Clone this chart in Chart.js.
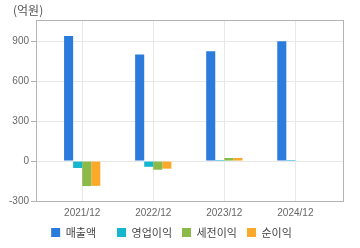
<!DOCTYPE html>
<html>
<head>
<meta charset="utf-8">
<script src="https://cdn.jsdelivr.net/npm/chart.js@4"></script>
<style>
  html, body { margin: 0; padding: 0; background: #fff; }
  #wrap { width: 360px; height: 248px; }
</style>
</head>
<body>
<div id="wrap"><canvas id="finChart"></canvas></div>
<script>
// ===== Data =====
const periods = ['2021/12', '2022/12', '2023/12', '2024/12'];
const seriesNames = ['매출액', '영업이익', '세전이익', '순이익'];
const sales = [940, 800, 825, 900];
const opProfit = [-52, -43, 8, 8];
const pretaxProfit = [-188, -65, 23, null];
const netProfit = [-186, -57, 23, null];
const yTicks = [-300, 0, 300, 600, 900];
const unitLabel = '(억원)';

const colors = ['#2b7bdc', '#16b6cf', '#8cba48', '#fba92a'];
const tickFont = { family: "'Liberation Sans', sans-serif", size: 10 };

function toPoints(arr) {
    return arr.map((v, i) => ({ x: i, y: v }));
}

// ===== Plugins =====
const frame = {
    id: 'frame',
    afterDraw(chart) {
        const a = chart.chartArea;
        const ctx = chart.ctx;
        ctx.save();
        ctx.strokeStyle = '#b4b4b4';
        ctx.lineWidth = 1;
        ctx.strokeRect(Math.round(a.left) + 0.5, Math.round(a.top) + 0.5,
            Math.round(a.right - a.left), Math.round(a.bottom - a.top));
        ctx.fillStyle = '#555';
        ctx.font = "12px 'Noto Sans CJK KR'";
        ctx.textBaseline = 'middle';
        ctx.fillText(unitLabel, 13, 10);
        ctx.restore();
    }
};

// ===== Chart =====
const data = [sales, opProfit, pretaxProfit, netProfit];
new Chart(document.getElementById('finChart'), {
    type: 'bar',
    data: {
        datasets: seriesNames.map((name, i) => ({
            label: name,
            data: toPoints(data[i]),
            backgroundColor: colors[i],
            borderWidth: 0,
            categoryPercentage: 0.51,
            barPercentage: 1
        }))
    },
    options: {
        responsive: true,
        maintainAspectRatio: false,
        animation: false,
        layout: { padding: { top: 20, right: 17, left: 0, bottom: 0 } },
        plugins: {
            legend: {
                position: 'bottom',
                labels: {
                    boxWidth: 9,
                    boxHeight: 9,
                    padding: 10,
                    color: '#444',
                    font: { family: "'Noto Sans CJK KR'", size: 11 },
                    generateLabels(chart) {
                        const items = Chart.defaults.plugins.legend.labels.generateLabels(chart);
                        // keep legend items evenly spaced like the original
                        items[0].text = items[0].text + '\u3000';
                        return items;
                    }
                }
            },
            tooltip: { enabled: false }
        },
        scales: {
            x: {
                type: 'linear',
                offset: false,
                min: -0.65,
                max: 3.67,
                afterFit(scale) { scale.height = 16; },
                afterBuildTicks(scale) {
                    scale.ticks = periods.map((p, i) => ({ value: i }));
                },
                grid: { color: '#e8e8e8', drawTicks: false, offset: false },
                border: { color: '#b4b4b4' },
                ticks: {
                    color: '#666',
                    font: tickFont,
                    padding: 6,
                    maxRotation: 0,
                    callback: (v) => periods[v]
                }
            },
            y: {
                min: -300,
                max: 1060,
                afterFit(scale) { scale.width = 36; },
                afterBuildTicks(scale) {
                    scale.ticks = yTicks.map(v => ({ value: v }));
                },
                grid: { color: '#e8e8e8', tickLength: 5, tickColor: '#b4b4b4' },
                border: { color: '#b4b4b4' },
                ticks: { color: '#666', font: tickFont, padding: 2 }
            }
        }
    },
    plugins: [frame]
});
</script>
</body>
</html>
